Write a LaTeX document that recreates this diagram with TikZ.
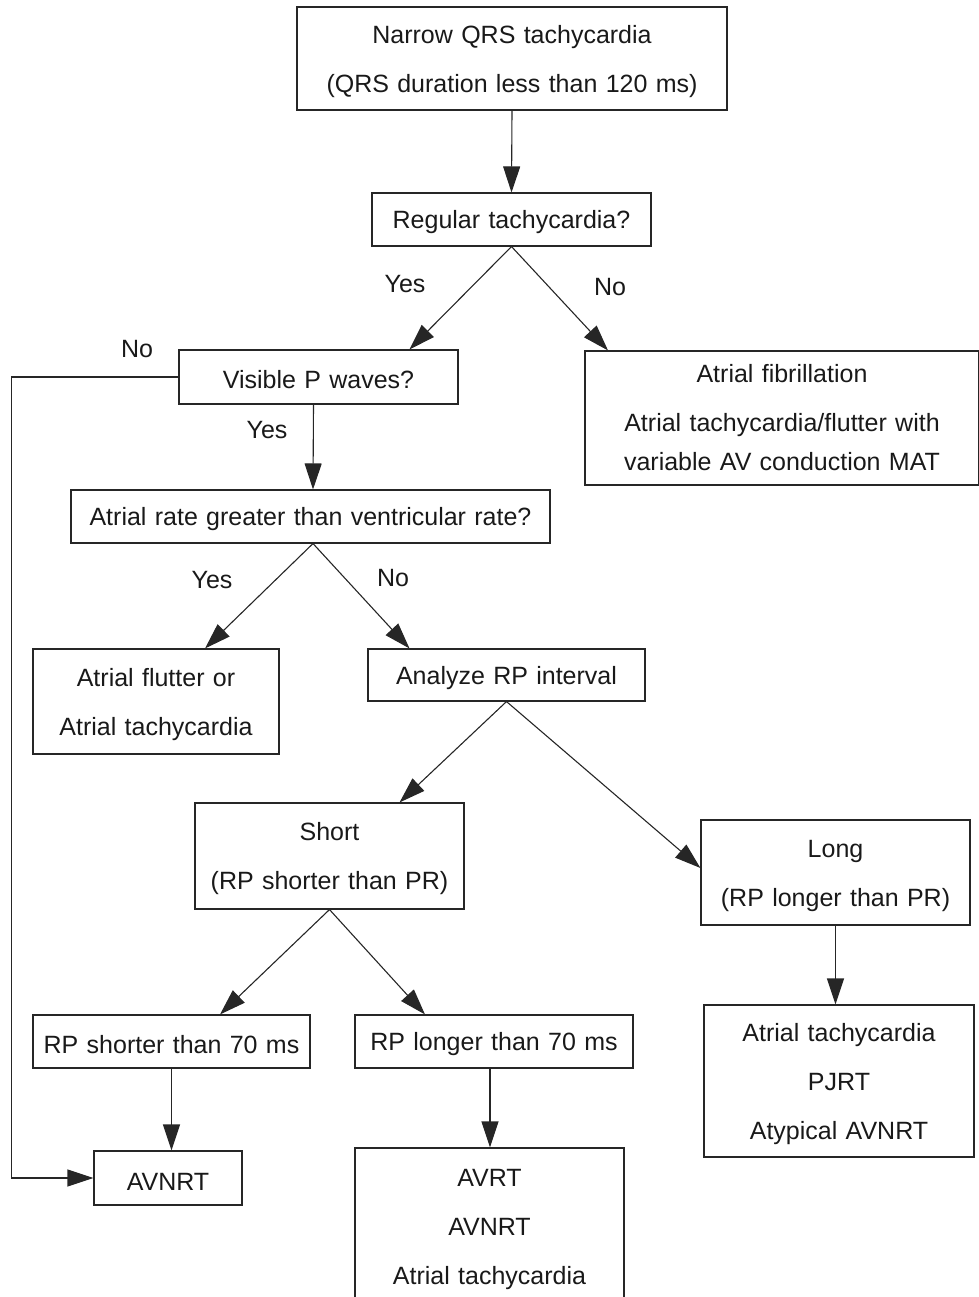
\documentclass[tikz,border=0pt]{standalone}
\usepackage{fontspec}
\setmainfont[WordSpace=1.2]{Liberation Sans}
\usetikzlibrary{arrows.meta}
\newcommand{\upstrut}{\rule{0pt}{24pt}}
\begin{document}
\begin{tikzpicture}[x=1pt, y=-1pt,
    every node/.style={font=\fontsize{25}{49}\selectfont, text=black!90},
    box/.style={draw=black!85, line width=1.1pt, align=center, inner sep=0pt},
    arr/.style={-{Triangle[length=26pt, width=17pt]}, line width=1.1pt, draw=black!85}]
  \useasboundingbox (0,0) rectangle (978,1297);
  % boxes
  \node[box, minimum width=430, minimum height=103] (qrs) at (512,58.5) {\upstrut Narrow QRS tachycardia\\(QRS duration less than 120 ms)};
  \node[box, minimum width=279, minimum height=53] (reg) at (511.5,219.5) {\upstrut Regular tachycardia?};
  \node[box, minimum width=279, minimum height=54] (vis) at (318.5,377) {\upstrut Visible P waves?};
  \node[box, minimum width=394, minimum height=134] (af) at (782,418) {Atrial fibrillation\\Atrial tachycardia/flutter with\\[-10pt]variable AV conduction MAT};
  \node[box, minimum width=479, minimum height=53] (rate) at (310.5,516.5) {\upstrut Atrial rate greater than ventricular rate?};
  \node[box, minimum width=246, minimum height=105] (flut) at (156,701.5) {\upstrut Atrial flutter or\\Atrial tachycardia};
  \node[box, minimum width=277, minimum height=52] (anal) at (506.5,675) {\upstrut Analyze RP interval};
  \node[box, minimum width=269, minimum height=106] (short) at (329.5,856) {\upstrut Short\\(RP shorter than PR)};
  \node[box, minimum width=269, minimum height=105] (long) at (835.5,872.5) {\upstrut Long\\(RP longer than PR)};
  \node[box, minimum width=277, minimum height=53] (rps) at (171.5,1041.5) {\upstrut RP shorter than 70 ms};
  \node[box, minimum width=278, minimum height=53] (rpl) at (494,1041.5) {\upstrut RP longer than 70 ms};
  \node[box, minimum width=270, minimum height=152] (atpj) at (839,1081) {\upstrut Atrial tachycardia\\PJRT\\Atypical AVNRT};
  \node[box, minimum width=148, minimum height=54] (avnrt) at (168,1178) {\upstrut AVNRT};
  \node[box, minimum width=269, minimum height=156] (avrt) at (489.5,1226) {\upstrut AVRT\\AVNRT\\Atrial tachycardia};
  % arrows
  \draw[arr] (qrs.south) -- (reg.north);
  \draw[arr] (reg.south) -- ([xshift=91pt]vis.north);
  \draw[arr] (reg.south) -- ([xshift=-174pt]af.north);
  \draw[arr] ([xshift=-5pt]vis.south) -- ([xshift=2.5pt]rate.north);
  \draw[arr] (vis.west) -- ++(-167,0) |- (avnrt.west);
  \draw[arr] ([xshift=2.5pt]rate.south) -- ([xshift=49pt]flut.north);
  \draw[arr] ([xshift=2.5pt]rate.south) -- ([xshift=-97pt]anal.north);
  \draw[arr] (anal.south) -- ([xshift=70pt]short.north);
  \draw[arr] (anal.south) -- ([yshift=4.5pt]long.west);
  \draw[arr] (short.south) -- ([xshift=48.5pt]rps.north);
  \draw[arr] (short.south) -- ([xshift=-69pt]rpl.north);
  \draw[arr] (rps.south) -- (rps.south |- avnrt.north);
  \draw[arr] ([xshift=-4pt]rpl.south) -- ([xshift=-4pt]rpl.south |- avrt.north);
  \draw[arr] (long.south) -- (long.south |- atpj.north);
  % labels
  \node (y1) at (405,284) {Yes};
  \node (n1) at (610,287) {No};
  \node (n2) at (137,349) {No};
  \node (y2) at (267,430) {Yes};
  \node (y3) at (212,580) {Yes};
  \node (n3) at (393,578) {No};
\end{tikzpicture}
\end{document}
